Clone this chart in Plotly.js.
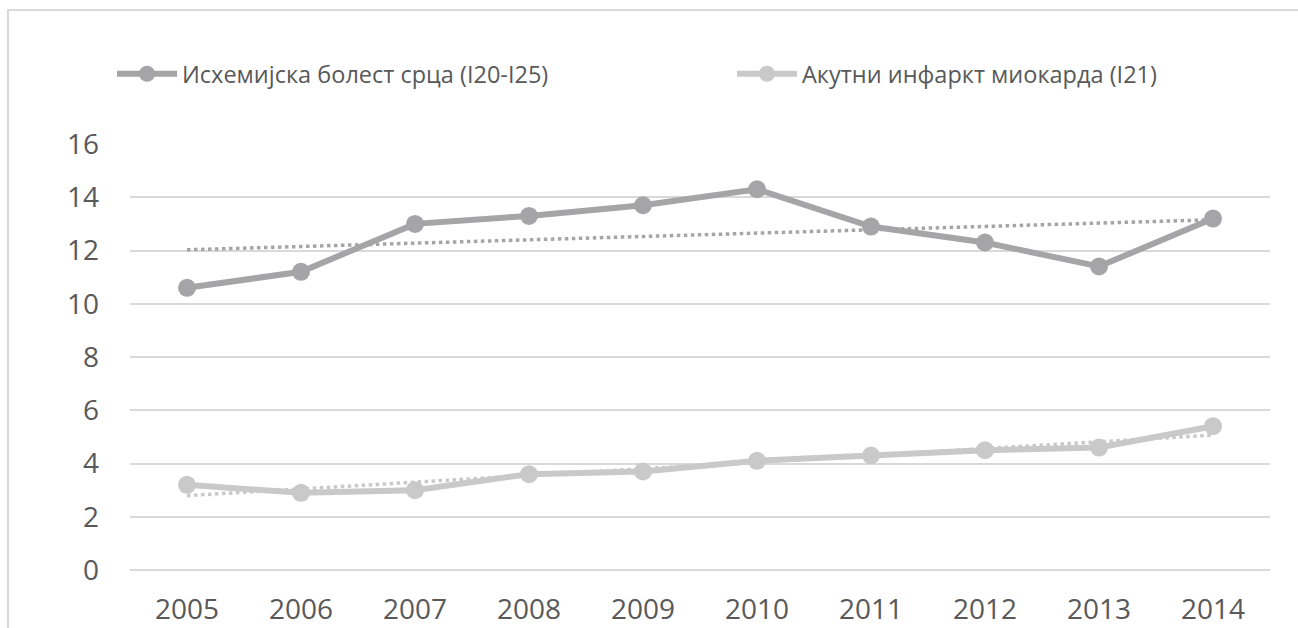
<!DOCTYPE html>
<html>
<head>
<meta charset="utf-8">
<script src="https://cdn.plot.ly/plotly-3.0.1.min.js"></script>
<style>
html,body{margin:0;padding:0;background:#fff;}
#chart{width:1298px;height:628px;}
</style>
</head>
<body>
<div id="chart"></div>
<script>
// Data
var years = ['2005','2006','2007','2008','2009','2010','2011','2012','2013','2014'];
var ischemicName = 'Исхемијска болест срца (I20-I25)';
var ischemic = [10.6, 11.2, 13.0, 13.3, 13.7, 14.3, 12.9, 12.3, 11.4, 13.2];
var amiName = 'Акутни инфаркт миокарда (I21)';
var ami = [3.2, 2.9, 3.0, 3.6, 3.7, 4.1, 4.3, 4.5, 4.6, 5.4];
var yTicks = [0, 2, 4, 6, 8, 10, 12, 14, 16];

// Linear trendline (least squares), as in the original chart
function linearTrend(vals) {
  var n = vals.length, mx = (n - 1) / 2, my = 0, sxy = 0, sxx = 0;
  vals.forEach(function (v) { my += v / n; });
  vals.forEach(function (v, i) { sxy += (i - mx) * (v - my); sxx += (i - mx) * (i - mx); });
  var b = sxy / sxx, a = my - b * mx;
  return vals.map(function (v, i) { return a + b * i; });
}

var c1 = '#a5a5a8', c2 = '#c9c9c9';
var traces = [
  {x: years, y: ischemic, name: ischemicName, type: 'scatter', mode: 'lines+markers', legend: 'legend',
   line: {color: c1, width: 6}, marker: {color: c1, size: 18}},
  {x: years, y: ami, name: amiName, type: 'scatter', mode: 'lines+markers', legend: 'legend2',
   line: {color: c2, width: 6}, marker: {color: c2, size: 18}},
  {x: years, y: linearTrend(ischemic), type: 'scatter', mode: 'lines', showlegend: false,
   line: {color: c1, width: 3.5, dash: 'dot'}},
  {x: years, y: linearTrend(ami), type: 'scatter', mode: 'lines', showlegend: false,
   line: {color: c2, width: 3.5, dash: 'dot'}}
];

var L = 130, R = 1270, T = 144, B = 570, W = R - L, H = B - T;
var legFont = {size: 23.5, color: '#595959', family: 'Open Sans, sans-serif'};
var layout = {
  width: 1298, height: 628,
  margin: {l: L, r: 1298 - R, t: T, b: 628 - B, pad: 0},
  paper_bgcolor: '#ffffff', plot_bgcolor: '#ffffff',
  font: {family: 'Open Sans, sans-serif', color: '#595959'},
  showlegend: true,
  hovermode: false,
  legend: {orientation: 'h', x: (112 - L) / W, xanchor: 'left', y: (B - 74) / H, yanchor: 'middle',
           font: legFont, bgcolor: 'rgba(0,0,0,0)', itemwidth: 60},
  legend2: {orientation: 'h', x: (732 - L) / W, xanchor: 'left', y: (B - 74) / H, yanchor: 'middle',
           font: legFont, bgcolor: 'rgba(0,0,0,0)', itemwidth: 60},
  xaxis: {type: 'category', range: [-0.5, 9.5], showgrid: false, zeroline: false,
          showline: false, ticks: '', tickfont: {size: 28, color: '#595959'}, ticklabelstandoff: 20,
          fixedrange: true},
  yaxis: {range: [0, 16], tickvals: yTicks, ticktext: yTicks.map(String), showgrid: true,
          gridcolor: '#d9d9d9', gridwidth: 2, zeroline: true, zerolinecolor: '#d9d9d9', zerolinewidth: 2,
          showline: false, ticks: '', tickfont: {size: 28, color: '#595959'}, ticklabelstandoff: 30,
          fixedrange: true},
  shapes: [{type: 'rect', xref: 'paper', yref: 'paper', layer: 'below',
            x0: (8 - L) / W, x1: (1320 - L) / W, y0: (B - 660) / H, y1: (B - 10) / H,
            line: {color: '#d9d9d9', width: 2}, fillcolor: 'rgba(0,0,0,0)'}]
};

Plotly.newPlot('chart', traces, layout, {displayModeBar: false, staticPlot: true});
</script>
</body>
</html>
